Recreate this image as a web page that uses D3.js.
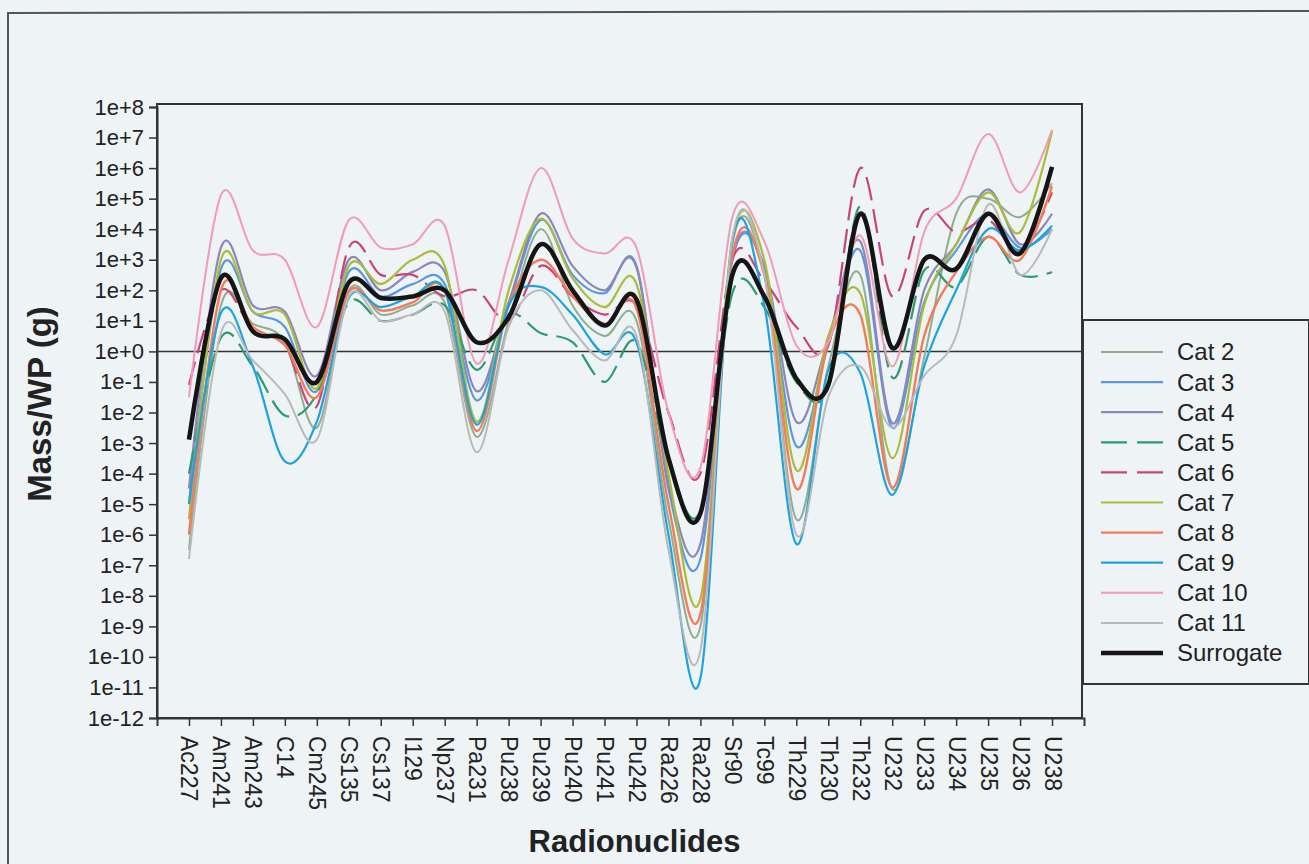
<!DOCTYPE html>
<html>
<head>
<meta charset="utf-8">
<script src="https://cdn.jsdelivr.net/npm/d3@7"></script>
<style>
    body { margin: 0; background: #eef3f5; }
    svg { display: block; font-family: "Liberation Sans", Arial, sans-serif; }
    .tick text { fill: #222; }
</style>
</head>
<body>
<div id="chart"></div>
<script>
// Mass per waste package (g), one value per radionuclide
var radionuclides = ['Ac227', 'Am241', 'Am243', 'C14', 'Cm245', 'Cs135', 'Cs137', 'I129', 'Np237', 'Pa231',
    'Pu238', 'Pu239', 'Pu240', 'Pu241', 'Pu242', 'Ra226', 'Ra228', 'Sr90', 'Tc99', 'Th229',
    'Th230', 'Th232', 'U232', 'U233', 'U234', 'U235', 'U236', 'U238']

var cat2 = [3.2e-7, 3.2e1, 8e0, 2e0, 3.2e-3, 1e2, 1.6e1, 3.2e1, 4e1, 1.6e-3, 1e1, 1e4, 3.2e1, 3.2e0, 1e1, 3.2e-6, 1e-9, 3.2e3, 3.2e2, 3.2e-6, 3.2e-1, 3.2e2, 3.2e-5, 6.3e-1, 3.2e4, 1e5, 2.5e4, 3.2e5]
var cat3 = [1e-5, 5e2, 2e1, 6.3e0, 5e-2, 4e2, 6.3e1, 1.6e2, 1.6e2, 2.5e-2, 3.2e1, 2e4, 3.2e2, 8e1, 6.3e2, 3.2e-5, 1.6e-7, 1e3, 5e2, 8e-4, 1.6e0, 2e3, 3.2e-3, 4e1, 2e3, 3.2e4, 2.5e3, 1e4]
var cat4 = [3.2e-5, 2.5e3, 3.2e1, 2e1, 1.6e-1, 1e3, 1e2, 4e2, 4e2, 5e-2, 4e1, 3.2e4, 6.3e2, 1e2, 5.6e2, 5e-5, 5e-7, 1.3e3, 6.3e2, 5e-3, 2.5e0, 4e3, 4.5e-3, 1e2, 3.2e3, 2e5, 3.2e3, 3.2e4]
var cat5 = [1e-4, 2.8e0, 3.2e-1, 8e-3, 4e-2, 4e1, 1e1, 1.6e1, 3.2e1, 2.5e-1, 1.6e1, 4e0, 2e0, 1e-1, 2e0, 2.5e-4, 6.3e-6, 8e1, 2.8e1, 1e-1, 6.3e-2, 5.6e4, 1.4e-1, 4.5e2, 1.3e2, 5.6e3, 3.2e2, 4e2]
var cat6 = [8e-2, 1e2, 5e0, 1.6e0, 1.6e-2, 2.5e3, 3.2e2, 3.2e2, 6.3e1, 1e2, 1e1, 6.3e2, 6.3e1, 1.6e1, 3.2e1, 1e-2, 1e-4, 1e3, 2e2, 6.3e0, 1.6e0, 1e6, 6.3e1, 4e4, 8e3, 2e4, 2e3, 1.6e5]
var cat7 = [3.2e-6, 1e3, 2e1, 1.6e1, 6.3e-2, 6.3e2, 1.6e2, 1e3, 6.3e2, 5e-3, 1e2, 2.2e4, 2.5e2, 2.8e1, 1.6e2, 1e-4, 8e-9, 5e3, 1e3, 1.3e-4, 3.2e0, 8e1, 3.2e-4, 3.2e1, 3.2e3, 1.6e5, 8e3, 1.6e7]
var cat8 = [1e-6, 1e2, 6.3e0, 1.6e0, 3.2e-2, 9e1, 2.2e1, 4e1, 1e2, 2.5e-3, 3.2e1, 1e3, 6.3e1, 8e0, 2.5e1, 1e-5, 2.5e-9, 1.3e3, 3.2e2, 3.2e-5, 2e0, 1.6e1, 3.5e-5, 3.2e0, 4e2, 5.6e3, 1e3, 2.5e5]
var cat9 = [1e-5, 1.8e1, 3.2e-1, 2.5e-4, 5e-3, 5.6e1, 2.8e1, 6.3e1, 1e2, 4e-3, 3.2e1, 1.3e2, 1.6e1, 8e-1, 2e0, 1e-6, 2e-11, 4e3, 3.2e1, 5e-7, 2.5e-1, 2e-1, 2e-5, 3.2e-1, 1e2, 1e4, 2e3, 1.3e4]
var cat10 = [3.2e-2, 1.3e5, 2e3, 1e3, 6.3e0, 2e4, 2.5e3, 3.2e3, 1.3e4, 4e-1, 1e3, 1e6, 5e3, 1.6e3, 2.5e3, 1e-2, 1.6e-4, 2.5e4, 4e3, 1.6e0, 2e0, 6.3e3, 3.2e-1, 8e3, 1e5, 1.3e7, 1.6e5, 1.8e7]
var cat11 = [1.6e-7, 4e0, 5e-1, 4e-2, 1.3e-3, 6.3e1, 1e1, 1.6e1, 2e1, 5e-4, 6.3e0, 1e2, 5e0, 5e-1, 3.2e0, 3.2e-7, 1.6e-10, 5e3, 3.2e2, 1e-6, 3.2e-2, 3.2e-1, 3.2e-3, 1.6e-1, 3.2e0, 6.3e4, 3.2e2, 1e4]
var surrogate = [1.3e-3, 2.5e2, 4.5e0, 2.5e0, 1e-1, 1.8e2, 5.6e1, 6.3e1, 1e2, 2e0, 1.3e1, 3.2e3, 1e2, 7e0, 5e1, 3.2e-4, 5e-6, 3.2e2, 6.3e1, 1.3e-1, 8e-2, 3.2e4, 1.3e0, 1e3, 5e2, 3.2e4, 1.6e3, 1.1e6]

var yTickValues = d3.range(-12, 9).map(function (e) { return Math.pow(10, e) })

var series = [
    { name: 'Cat 2', values: cat2, color: '#8fae8f', width: 2 },
    { name: 'Cat 3', values: cat3, color: '#5b97de', width: 2.2 },
    { name: 'Cat 4', values: cat4, color: '#8d86b8', width: 2.2 },
    { name: 'Cat 5', values: cat5, color: '#2e9b6e', width: 2.2, dash: '24,9' },
    { name: 'Cat 6', values: cat6, color: '#c8447a', width: 2.2, dash: '24,9' },
    { name: 'Cat 7', values: cat7, color: '#a9bd3a', width: 2.2 },
    { name: 'Cat 8', values: cat8, color: '#f27c5a', width: 2.4 },
    { name: 'Cat 9', values: cat9, color: '#1fa3dc', width: 2.2 },
    { name: 'Cat 10', values: cat10, color: '#f29ab8', width: 2 },
    { name: 'Cat 11', values: cat11, color: '#b9b9b9', width: 2 },
    { name: 'Surrogate', values: surrogate, color: '#151515', width: 4.5 }
]

var layout = {
    width: 1309,
    height: 864,
    plot: { left: 157, right: 1082, top: 106, bottom: 718 },
    legend: { x: 1083, y: 320, width: 226, height: 364, rowStart: 352, rowStep: 30.1 }
}

function drawChart(display) {
    var svg = d3.select(display).append('svg')
        .attr('width', layout.width)
        .attr('height', layout.height)

    svg.append('rect')
        .attr('width', '100%')
        .attr('height', '100%')
        .attr('fill', '#eef3f5')

    // outer chart border (only left and top are in frame)
    svg.append('path')
        .attr('d', 'M8,864 L8,13 L1309,11')
        .attr('fill', 'none')
        .attr('stroke', '#555')
        .attr('stroke-width', 2)

    var p = layout.plot
    var x = d3.scalePoint()
        .domain(radionuclides)
        .range([p.left, p.right + 2])
        .padding(1)

    var y = d3.scaleLog()
        .domain([1e-12, 1e8])
        .range([p.bottom, p.top + 1])

    // plot frame
    svg.append('rect')
        .attr('x', p.left)
        .attr('y', p.top - 2)
        .attr('width', p.right - p.left)
        .attr('height', p.bottom - p.top + 2)
        .attr('fill', 'none')
        .attr('stroke', '#333')
        .attr('stroke-width', 2)

    var yAxis = svg.append('g')
        .attr('transform', 'translate(' + p.left + ',0)')
        .call(d3.axisLeft(y)
            .tickValues(yTickValues)
            .tickSize(8)
            .tickPadding(5)
            .tickFormat(function (d) {
                var e = Math.round(Math.log10(d))
                return '1e' + (e >= 0 ? '+' : '') + e
            }))
    yAxis.select('.domain').attr('stroke', '#333').attr('stroke-width', 2)
    yAxis.selectAll('.tick line').attr('stroke', '#333').attr('stroke-width', 1.5)
    yAxis.selectAll('.tick text').style('font-size', '22px')

    var xAxis = svg.append('g')
        .attr('transform', 'translate(0,' + p.bottom + ')')
        .call(d3.axisBottom(x).tickSize(8).tickPadding(0))
    xAxis.select('.domain').attr('stroke', '#333').attr('stroke-width', 2)
    xAxis.selectAll('.tick line').attr('stroke', '#333').attr('stroke-width', 1.5)
    xAxis.selectAll('.tick text')
        .style('font-size', '23px')
        .attr('text-anchor', 'start')
        .attr('dy', null)
        .attr('y', 0)
        .attr('transform', 'translate(-8,18) rotate(90)')

    // reference line at 1 g
    svg.append('line')
        .attr('x1', p.left)
        .attr('x2', p.right + 2)
        .attr('y1', y(1))
        .attr('y2', y(1))
        .attr('stroke', '#333')
        .attr('stroke-width', 1.5)

    var line = d3.line()
        .x(function (d, i) { return x(radionuclides[i]) })
        .y(function (d) { return y(d) })
        .curve(d3.curveCardinal.tension(0))

    svg.append('g')
        .attr('id', 'lines')
        .selectAll('path')
        .data(series)
        .join('path')
        .attr('d', function (s) { return line(s.values) })
        .attr('fill', 'none')
        .attr('stroke', function (s) { return s.color })
        .attr('stroke-width', function (s) { return s.width })
        .attr('stroke-dasharray', function (s) { return s.dash || null })
        .attr('stroke-linejoin', 'round')

    svg.append('text')
        .attr('x', (p.left + p.right) / 2 + 15)
        .attr('y', 852)
        .attr('text-anchor', 'middle')
        .style('font-size', '31px')
        .style('font-weight', 'bold')
        .attr('fill', '#222')
        .text('Radionuclides')

    svg.append('text')
        .attr('transform', 'translate(51,' + 404 + ') rotate(-90)')
        .attr('text-anchor', 'middle')
        .style('font-size', '33px')
        .style('font-weight', 'bold')
        .attr('fill', '#222')
        .text('Mass/WP (g)')

    drawLegend(svg)
}

function drawLegend(svg) {
    var l = layout.legend
    var legend = svg.append('g').attr('id', 'legend')

    legend.append('rect')
        .attr('x', l.x)
        .attr('y', l.y)
        .attr('width', l.width)
        .attr('height', l.height)
        .attr('fill', '#eef3f5')
        .attr('stroke', '#333')
        .attr('stroke-width', 2)

    var rows = legend.selectAll('g.row')
        .data(series)
        .join('g')
        .attr('class', 'row')
        .attr('transform', function (s, i) { return 'translate(0,' + (l.rowStart + i * l.rowStep) + ')' })

    rows.append('line')
        .attr('x1', 1101)
        .attr('x2', 1163)
        .attr('stroke', function (s) { return s.color })
        .attr('stroke-width', function (s) { return s.width })
        .attr('stroke-dasharray', function (s) { return s.dash ? '26,10' : null })

    rows.append('text')
        .attr('x', 1177)
        .attr('dy', '0.35em')
        .style('font-size', '24px')
        .attr('fill', '#222')
        .text(function (s) { return s.name })
}

drawChart('#chart')
</script>
</body>
</html>
